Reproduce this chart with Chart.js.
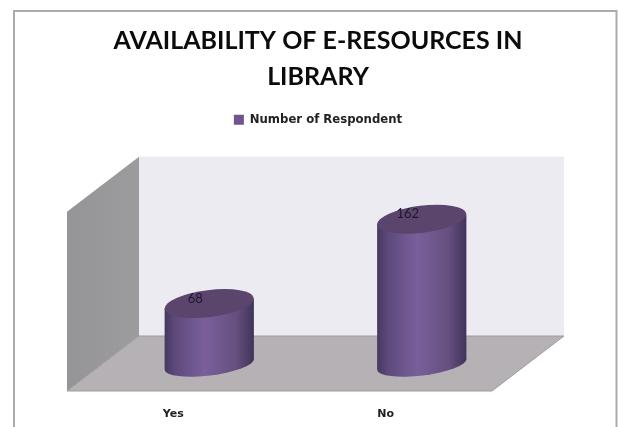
<!DOCTYPE html>
<html><head><meta charset="utf-8">
<style>
html,body{margin:0;padding:0;background:#fff;overflow:hidden}
#wrap{position:absolute;left:0;top:0;width:618px;height:427px}
</style>
<script src="https://cdn.jsdelivr.net/npm/chart.js@4"></script>
</head><body>
<div id="wrap"><canvas id="c" width="618" height="427"></canvas></div>
<script>
const categories = ["Yes", "No"];
const seriesName = "Number of Respondent";
const respondents = [68, 162];
const titleLines = ["AVAILABILITY OF E-RESOURCES IN", "LIBRARY"];
const axisMax = 200;

const DEPTH_X = 72, DEPTH_Y = 55;      // full floor depth of the 3D box
const BAR_DX = 36, BAR_DY = 26.5;      // bars stand mid-way into the box
const FONT = "Lato, Carlito, sans-serif";
const SMALL_FONT = "'DejaVu Sans', sans-serif";

function drawCylinder(ctx, el) {
  const cx = el.x + BAR_DX, top = el.y - BAR_DY, bot = el.base - BAR_DY;
  const half = el.width / 2, tilt = -7 * Math.PI / 180, slope = 4.5;
  const g = ctx.createLinearGradient(cx - half, 0, cx + half, 0);
  g.addColorStop(0, "#46385f");
  g.addColorStop(0.12, "#5d4a7c");
  g.addColorStop(0.45, "#7a5f9b");
  g.addColorStop(0.8, "#65507f");
  g.addColorStop(1, "#41335a");
  ctx.save();
  ctx.fillStyle = g;
  ctx.beginPath();
  ctx.ellipse(cx, bot, half + 0.3, 11, tilt, 0, Math.PI * 2);
  ctx.fill();
  ctx.beginPath();
  ctx.moveTo(cx - half, top + slope);
  ctx.lineTo(cx + half, top - slope);
  ctx.lineTo(cx + half, bot - slope);
  ctx.lineTo(cx - half, bot + slope);
  ctx.closePath();
  ctx.fill();
  ctx.fillStyle = "#5b456c";
  ctx.beginPath();
  ctx.ellipse(cx, top, half + 0.3, 13.5, tilt, 0, Math.PI * 2);
  ctx.fill();
  ctx.restore();
}

const box3d = {
  id: "box3d",
  beforeInit(chart) {
    const fit = chart.legend.fit;
    chart.legend.fit = function () { fit.call(this); this.height += 76; };
  },
  beforeDraw(chart) {
    const ctx = chart.ctx;
    ctx.save();
    ctx.strokeStyle = "#ababab";
    ctx.lineWidth = 2;
    ctx.beginPath();
    ctx.moveTo(14, 427); ctx.lineTo(14, 11); ctx.lineTo(616.5, 11); ctx.lineTo(616.5, 427);
    ctx.stroke();
    ctx.restore();
  },
  beforeDatasetsDraw(chart) {
    const ctx = chart.ctx, a = chart.chartArea;
    const L = a.left, R = a.right, T = a.top, B = a.bottom;
    ctx.save();
    ctx.fillStyle = "#ecebf2";
    ctx.fillRect(L + DEPTH_X, T - DEPTH_Y, R - L, B - T);
    const side = ctx.createLinearGradient(L, 0, L + DEPTH_X, 0);
    side.addColorStop(0, "#959497");
    side.addColorStop(1, "#9c9b9e");
    ctx.fillStyle = side;
    ctx.beginPath();
    ctx.moveTo(L, T); ctx.lineTo(L + DEPTH_X, T - DEPTH_Y);
    ctx.lineTo(L + DEPTH_X, B - DEPTH_Y); ctx.lineTo(L, B);
    ctx.closePath(); ctx.fill();
    ctx.fillStyle = "#b5b1b5";
    ctx.strokeStyle = "#9e9c9f";
    ctx.lineWidth = 1;
    ctx.beginPath();
    ctx.moveTo(L, B); ctx.lineTo(L + DEPTH_X, B - DEPTH_Y);
    ctx.lineTo(R + DEPTH_X, B - DEPTH_Y); ctx.lineTo(R, B);
    ctx.closePath(); ctx.fill(); ctx.stroke();
    ctx.restore();
  },
  afterDatasetsUpdate(chart) {
    chart.getDatasetMeta(0).data.forEach(el => {
      el.draw = function (ctx) { drawCylinder(ctx, this); };
    });
  },
  afterDatasetsDraw(chart) {
    const ctx = chart.ctx;
    ctx.save();
    ctx.fillStyle = "#1d1730";
    ctx.font = "13px " + FONT;
    ctx.textAlign = "center";
    ctx.textBaseline = "middle";
    chart.getDatasetMeta(0).data.forEach((el, i) => {
      ctx.fillText(String(respondents[i]), el.x + BAR_DX - 14, el.y - BAR_DY - 5);
    });
    ctx.restore();
  }
};

new Chart(document.getElementById("c"), {
  type: "bar",
  data: {
    labels: categories,
    datasets: [{
      label: seriesName,
      data: respondents,
      backgroundColor: "#6f5590",
      borderWidth: 0,
      barPercentage: 0.42,
      categoryPercentage: 1,
      clip: false
    }]
  },
  plugins: [box3d],
  options: {
    responsive: false,
    animation: false,
    layout: { padding: { left: 67, right: 49, top: 23, bottom: 0 } },
    scales: {
      x: {
        grid: { display: false },
        border: { display: false },
        afterFit(s) { s.height = 36; },
        ticks: { color: "#222", font: { family: SMALL_FONT, size: 11, weight: "bold" }, padding: 9, maxRotation: 0 }
      },
      y: {
        position: "right",
        min: 0, max: axisMax,
        grid: { display: false },
        border: { display: false },
        ticks: { display: false },
        afterFit(s) { s.width = 77; }
      }
    },
    plugins: {
      title: {
        display: true,
        text: titleLines,
        color: "#0b0b0b",
        font: { family: FONT, size: 25, weight: "bold", lineHeight: 1.44 },
        padding: { top: 0, bottom: 15 }
      },
      legend: {
        display: true,
        position: "top",
        labels: {
          color: "#222",
          boxWidth: 10, boxHeight: 10,
          font: { family: SMALL_FONT, size: 11.7, weight: "bold" },
          padding: 4
        }
      },
      tooltip: { enabled: false }
    }
  }
});
</script>
</body></html>
